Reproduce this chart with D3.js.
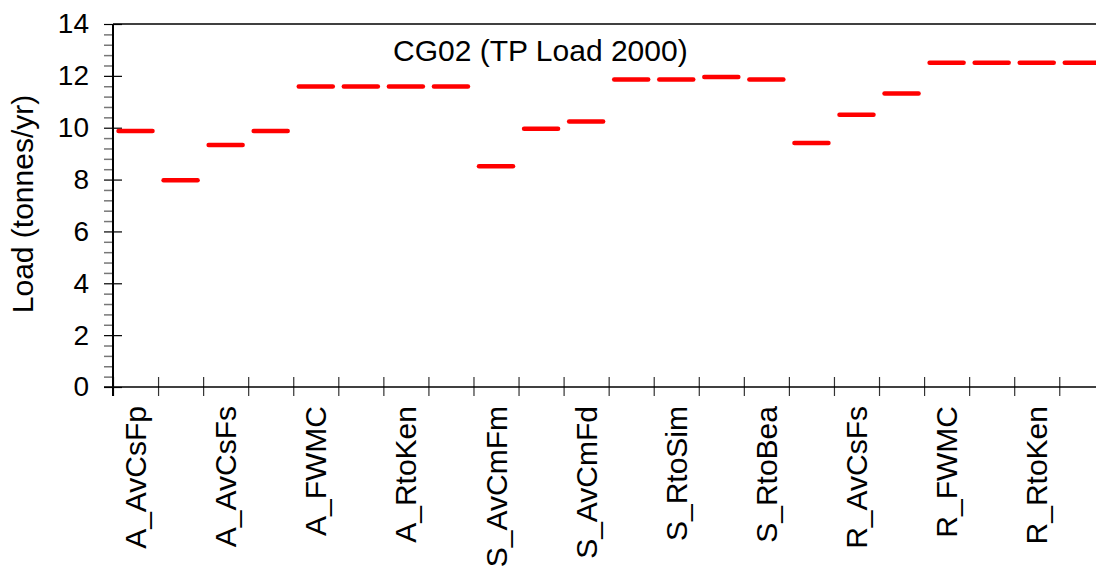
<!DOCTYPE html>
<html>
<head>
<meta charset="utf-8">
<script src="https://cdn.jsdelivr.net/npm/d3@7"></script>
<style>
  body { margin: 0; background: #fff; }
  svg { display: block; font-family: 'Liberation Sans', Arial, sans-serif; }
</style>
</head>
<body>
<div id="chart"></div>
<script>
// TP load per scenario (tonnes/yr), one dash per category slot
const loads = [9.87, 7.97, 9.33, 9.87, 11.59, 11.59, 11.59, 11.59,
  8.51, 9.96, 10.24, 11.86, 11.86, 11.96, 11.86,
  9.41, 10.50, 11.32, 12.51, 12.51, 12.51, 12.51];
// labels shown on every other slot
const tickLabels = ['A_AvCsFp', 'A_AvCsFs', 'A_FWMC', 'A_RtoKen', 'S_AvCmFm', 'S_AvCmFd',
  'S_RtoSim', 'S_RtoBea', 'R_AvCsFs', 'R_FWMC', 'R_RtoKen'];
const yTicks = [0, 2, 4, 6, 8, 10, 12, 14];
const chartTitle = 'CG02 (TP Load 2000)';
const yTitle = 'Load (tonnes/yr)';

const W = 1096, H = 571;
const margin = { left: 113, top: 24 };
const plotBottom = 387;
const slot = 45.06;

const svg = d3.select('#chart').append('svg')
  .attr('width', W)
  .attr('height', H);

// Scales
const x = d3.scaleLinear().domain([0, loads.length]).range([margin.left, margin.left + slot * loads.length]);
const y = d3.scaleLinear().domain([0, 14]).range([plotBottom, margin.top]);

// Top frame line
svg.append('line')
  .attr('x1', x(0)).attr('x2', x(loads.length))
  .attr('y1', y(14)).attr('y2', y(14))
  .attr('stroke', '#000').attr('stroke-width', 1.5);

// Minor y ticks
const minor = d3.range(0, 70).map(d => d * 0.4).filter(d => d <= 14 && Math.abs(d / 2 - Math.round(d / 2)) > 0.01);
svg.append('g')
  .attr('transform', 'translate(' + margin.left + ',0)')
  .call(d3.axisLeft(y).tickValues(minor).tickSize(9).tickFormat(''))
  .call(g => g.select('.domain').remove())
  .call(g => g.selectAll('line').attr('stroke', '#777').attr('stroke-width', 1.5));

// Major y ticks + labels
const yAxis = svg.append('g')
  .attr('transform', 'translate(' + margin.left + ',0)')
  .call(d3.axisLeft(y).tickValues(yTicks).tickSize(9).tickPadding(15))
  .call(g => g.select('.domain').remove());
yAxis.selectAll('line').attr('x1', 9).attr('stroke', '#000').attr('stroke-width', 1.2);
yAxis.selectAll('text')
  .attr('font-size', '28px')
  .attr('font-family', "'Liberation Sans', Arial, sans-serif")
  .attr('fill', '#000');

// X axis ticks at slot boundaries
const xAxis = svg.append('g')
  .attr('transform', 'translate(0,' + plotBottom + ')')
  .call(d3.axisBottom(x).tickValues(d3.range(0, loads.length + 1)).tickSize(9).tickFormat(''))
  .call(g => g.select('.domain').remove());
xAxis.selectAll('line').attr('y1', -10).attr('stroke', '#333').attr('stroke-width', 1.2);

// Axis lines
svg.append('line')
  .attr('x1', margin.left).attr('x2', margin.left)
  .attr('y1', y(14)).attr('y2', plotBottom + 9)
  .attr('stroke', '#000').attr('stroke-width', 2);
svg.append('line')
  .attr('x1', margin.left - 9).attr('x2', x(loads.length))
  .attr('y1', plotBottom).attr('y2', plotBottom)
  .attr('stroke', '#000').attr('stroke-width', 1.5);

// Category labels
svg.append('g').selectAll('text')
  .data(tickLabels)
  .join('text')
  .attr('transform', (d, i) => 'translate(' + (x(i * 2 + 0.5) + 10.5) + ',' + (plotBottom + 19) + ') rotate(-90)')
  .attr('text-anchor', 'end')
  .attr('font-size', '30px')
  .attr('fill', '#000')
  .text(d => d);

// Dashes
svg.append('g').selectAll('line')
  .data(loads)
  .join('line')
  .attr('x1', (d, i) => x(i + 0.5) - 17)
  .attr('x2', (d, i) => x(i + 0.5) + 17)
  .attr('y1', d => y(d))
  .attr('y2', d => y(d))
  .attr('stroke', '#ff0000')
  .attr('stroke-width', 4.5)
  .attr('stroke-linecap', 'round');

// Title
svg.append('text')
  .attr('x', 393)
  .attr('y', 61)
  .attr('font-size', '30px')
  .attr('fill', '#000')
  .text(chartTitle);

// Y label
svg.append('text')
  .attr('transform', 'translate(33,204) rotate(-90)')
  .attr('text-anchor', 'middle')
  .attr('font-size', '30px')
  .attr('fill', '#000')
  .text(yTitle);
</script>
</body>
</html>
